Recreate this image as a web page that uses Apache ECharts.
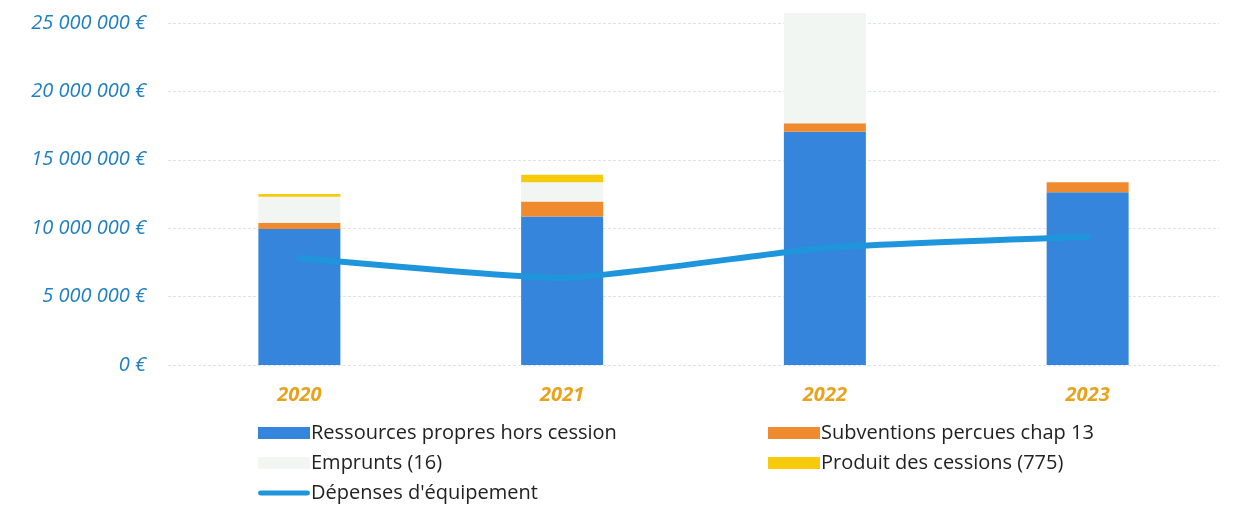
<!DOCTYPE html>
<html><head><meta charset="utf-8">
<script src="https://cdn.jsdelivr.net/npm/echarts@6/dist/echarts.min.js"></script>
<style>html,body{margin:0;padding:0;background:#fff}#c{width:1241px;height:519px}</style>
</head><body><div id="c"></div>
<script>
const categories = ['2020','2021','2022','2023'];
const ressources = [9940000, 10850000, 17050000, 12620000];
const subventions = [450000, 1100000, 620000, 730000];
const emprunts = [1900000, 1400000, 8060000, 0];
const cessions = [200000, 550000, 0, 0];
const depenses = [7820000, 6360000, 8570000, 9380000];
const yMin = 0, yMax = 25800000, yStep = 5000000;

const fmt = v => (v === 0 ? '0' : String(v).replace(/\B(?=(\d{3})+(?!\d))/g, ' ')) + ' €';
const font = "'Open Sans', 'Noto Sans', sans-serif";
const chart = echarts.init(document.getElementById('c'), null, {renderer:'canvas'});
chart.setOption({
  animation: false,
  backgroundColor: '#ffffff',
  grid: {left: 168, right: 22, top: 12, bottom: 154, containLabel: false},
  xAxis: {
    type: 'category', data: categories,
    axisLine: {show: false}, axisTick: {show: false},
    axisLabel: {margin: 20, color: '#e8a21c', fontStyle: 'italic', fontWeight: 'bold', fontSize: 20, fontFamily: font}
  },
  yAxis: {
    type: 'value', min: yMin, max: yMax, interval: yStep,
    axisLine: {show: false}, axisTick: {show: false},
    splitLine: {showMaxLine: false, lineStyle: {color: '#dde3e6', type: [3,2], width: 1}},
    axisLabel: {showMaxLabel: false, margin: 22, color: '#1f7fc2', fontStyle: 'italic', fontSize: 20, fontFamily: font,
      formatter: v => (v % yStep === 0 ? fmt(v) : '')}
  },
  legend: [
    {orient: 'vertical', left: 253, top: 418, itemWidth: 52, itemHeight: 12, itemGap: 10, icon: 'rect',
     textStyle: {fontSize: 20, color: '#222', fontFamily: font, padding:[0,0,0,-4]},
     data: ['Ressources propres hors cession', 'Emprunts (16)',
       {name: "Dépenses d'équipement", icon: 'path://M2,0 L50,0 A2.5,2.5 0 0 1 50,5 L2,5 A2.5,2.5 0 0 1 2,0 Z', itemStyle: {color: '#1f96dc'}}]},
    {orient: 'vertical', left: 763, top: 418, itemWidth: 52, itemHeight: 12, itemGap: 10, icon: 'rect',
     textStyle: {fontSize: 20, color: '#222', fontFamily: font, padding:[0,0,0,-4]},
     data: ['Subventions percues chap 13', 'Produit des cessions (775)']}
  ],
  series: [
    {name:'Ressources propres hors cession', type:'bar', stack:'s', data: ressources, barWidth: 82, itemStyle:{color:'#3585dd'}},
    {name:'Subventions percues chap 13', type:'bar', stack:'s', data: subventions, itemStyle:{color:'#ef8a2f'}},
    {name:'Emprunts (16)', type:'bar', stack:'s', data: emprunts, itemStyle:{color:'#f1f6f3'}},
    {name:'Produit des cessions (775)', type:'bar', stack:'s', data: cessions, itemStyle:{color:'#f7cb0c'}},
    {name:"Dépenses d'équipement", type:'line', data: depenses, symbol:'none', smooth: 0.15,
     lineStyle:{color:'#1f96dc', width:6, cap:'round'}, itemStyle:{color:'#1f96dc'}}
  ]
});
</script></body></html>
